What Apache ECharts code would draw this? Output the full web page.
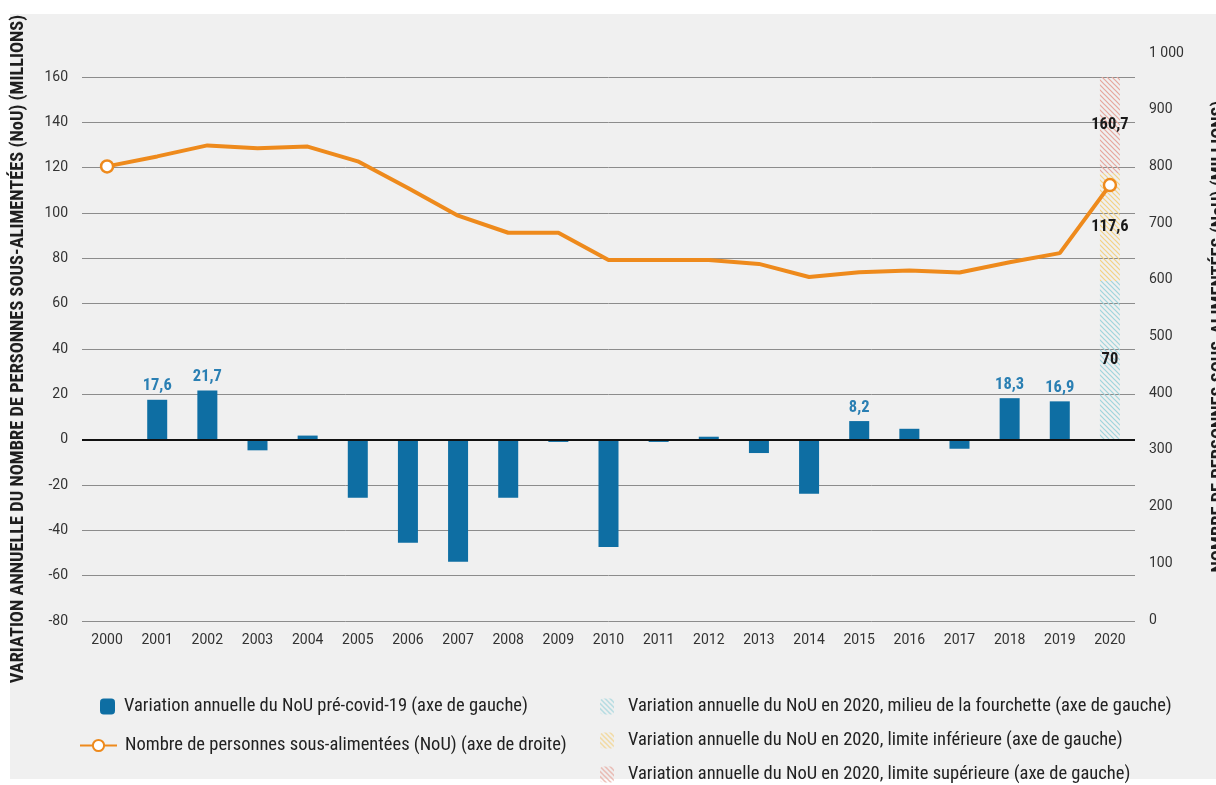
<!DOCTYPE html>
<html>
<head>
<meta charset="utf-8">
<script src="https://cdn.jsdelivr.net/npm/echarts@6/dist/echarts.min.js"></script>
<style>
  html, body { margin: 0; padding: 0; background: #ffffff; }
  #bg { position: absolute; left: 10px; top: 14px; right: 0; bottom: 6px; background: #f0f0f0; }
  #chart { position: absolute; left: 0; top: 0; width: 1216px; height: 785px; }
</style>
</head>
<body>
<div id="bg"></div>
<div id="chart"></div>
<script>
// ---------- data ----------
const years = ['2000','2001','2002','2003','2004','2005','2006','2007','2008','2009','2010',
               '2011','2012','2013','2014','2015','2016','2017','2018','2019','2020'];
// annual change in NoU before covid-19 (left axis, millions)
const annualChange = [null, 17.6, 21.7, -4.7, 1.8, -25.6, -45.5, -53.9, -25.6, -1.0, -47.3,
                      -1.0, 1.3, -5.9, -23.9, 8.2, 4.8, -4.0, 18.3, 16.9, null];
const labeledYears = ['2001', '2002', '2015', '2018', '2019'];
// number of undernourished people (right axis, millions)
const nou = [800, 817.6, 837, 832, 835, 809, 762, 713, 683, 683, 635,
             635, 635, 628, 605, 613.5, 616.5, 613, 631, 647, 767];
// 2020 range bounds (cumulative values shown as labels)
const rangeBounds = [70, 117.6, 160.7];
const rangeNames = [
  'Variation annuelle du NoU en 2020, milieu de la fourchette (axe de gauche)',
  'Variation annuelle du NoU en 2020, limite inférieure (axe de gauche)',
  'Variation annuelle du NoU en 2020, limite supérieure (axe de gauche)'
];
const rangeYear = '2020';
const leftTicks = { min: -80, max: 160, interval: 20 };
const rightTicks = { min: 0, max: 1000, interval: 100 };
const barName = 'Variation annuelle du NoU pré-covid-19 (axe de gauche)';
const lineName = 'Nombre de personnes sous-alimentées (NoU) (axe de droite)';
const leftTitle = 'VARIATION ANNUELLE DU NOMBRE DE PERSONNES SOUS-ALIMENTÉES (NoU) (MILLIONS)';
const rightTitle = 'NOMBRE DE PERSONNES SOUS-ALIMENTÉES (NoU) (MILLIONS)';

// ---------- styles ----------
const NARROW = "'Roboto Condensed', 'Fira Sans Condensed', 'Archivo Narrow', sans-serif";
const REG = "Roboto, 'Liberation Sans', sans-serif";
const BAR_COLOR = '#0e6ea3';
const LINE_COLOR = '#ee8a1c';
const hatchColors = ['#9fd4dc', '#f3d184', '#e6a69c'];

function hatch(color) {
  const s = 5;
  const c = document.createElement('canvas');
  c.width = s; c.height = s;
  const g = c.getContext('2d');
  g.strokeStyle = color;
  g.lineWidth = 1.2;
  g.beginPath();
  g.moveTo(-1, -1); g.lineTo(s + 1, s + 1);
  g.moveTo(-s - 1, -1); g.lineTo(1, s + 1);
  g.moveTo(s - 1, -1); g.lineTo(2 * s + 1, s + 1);
  g.stroke();
  return { image: c, repeat: 'repeat' };
}
const fmt = v => String(v).replace('.', ',');

const chart = echarts.init(document.getElementById('chart'), null, { renderer: 'canvas' });

const rangeSeries = rangeBounds.map((b, k) => {
  const prev = k === 0 ? 0 : rangeBounds[k - 1];
  const seg = +(b - prev).toFixed(1);
  return {
    name: rangeNames[k],
    type: 'bar',
    stack: 'v',
    xAxisIndex: 0, yAxisIndex: 0,
    barWidth: 20,
    data: years.map(y => (y === rangeYear ? seg : '-')),
    itemStyle: { color: hatch(hatchColors[k]) },
    label: {
      show: true, position: 'inside',
      formatter: () => fmt(b),
      color: '#1a1a1a', fontFamily: NARROW, fontWeight: 'bold', fontSize: 16.5
    },
    z: 3
  };
});

const legendText = { fontFamily: NARROW, fontSize: 18.5, color: '#222' };

const option = {
  backgroundColor: 'transparent',
  animation: false,
  grid: [
    { left: 82, right: 81, top: 77, bottom: 164, containLabel: false, outerBoundsMode: 'none' },
    { left: 82, right: 81, top: 53, bottom: 165, containLabel: false, outerBoundsMode: 'none' }
  ],
  xAxis: [
    {
      type: 'category', gridIndex: 0, data: years, boundaryGap: true,
      axisLine: { show: false }, axisTick: { show: false },
      axisLabel: { color: '#333', fontFamily: REG, fontSize: 14, margin: 12 }
    },
    {
      type: 'category', gridIndex: 1, data: years, boundaryGap: true, show: false
    }
  ],
  yAxis: [
    {
      type: 'value', gridIndex: 0, position: 'left',
      min: leftTicks.min, max: leftTicks.max, interval: leftTicks.interval,
      axisLine: { show: false }, axisTick: { show: false },
      splitLine: { show: true, lineStyle: { color: '#8c8c8c', width: 1 } },
      axisLabel: { color: '#333', fontFamily: REG, fontSize: 14, margin: 14 },
      name: leftTitle, nameLocation: 'middle', nameRotate: 90, nameGap: 55,
      nameTextStyle: { fontFamily: NARROW, fontWeight: 'bold', fontSize: 18.4, color: '#1e1e1e' }
    },
    {
      type: 'value', gridIndex: 1, position: 'right',
      min: rightTicks.min, max: rightTicks.max, interval: rightTicks.interval,
      axisLine: { show: false }, axisTick: { show: false },
      splitLine: { show: false },
      axisLabel: {
        color: '#333', fontFamily: REG, fontSize: 14, margin: 14,
        formatter: v => (v >= 1000 ? String(v).replace(/\B(?=(\d{3})+(?!\d))/g, ' ') : String(v))
      },
      name: rightTitle, nameLocation: 'middle', nameRotate: 90, nameGap: 75,
      nameTextStyle: { fontFamily: NARROW, fontWeight: 'bold', fontSize: 18.4, color: '#1e1e1e' }
    }
  ],
  legend: [
    {
      data: [barName], left: 100, top: 697, padding: 0, itemWidth: 15, itemHeight: 16,
      textStyle: Object.assign({ padding: [0, 0, 0, 4] }, legendText)
    },
    {
      data: [lineName], left: 79, top: 736, padding: 0, itemWidth: 37, itemHeight: 14,
      textStyle: Object.assign({ padding: [0, 0, 0, 3] }, legendText)
    },
    {
      data: rangeNames, left: 600, top: 697, padding: 0, orient: 'vertical', itemGap: 15,
      itemWidth: 14, itemHeight: 16, height: 100,
      textStyle: Object.assign({ padding: [0, 0, 0, 9] }, legendText)
    }
  ],
  series: [
    {
      name: barName,
      type: 'bar', stack: 'v',
      xAxisIndex: 0, yAxisIndex: 0,
      barWidth: 20,
      data: annualChange.map(v => (v === null ? '-' : v)),
      itemStyle: { color: BAR_COLOR },
      label: {
        show: true, position: 'top', distance: 5,
        formatter: p => (labeledYears.indexOf(p.name) >= 0 ? fmt(p.value) : ''),
        color: '#2a7fb3', fontFamily: NARROW, fontWeight: 'bold', fontSize: 16.5
      },
      markLine: {
        silent: true, symbol: 'none', label: { show: false },
        lineStyle: { color: '#111', width: 2, type: 'solid' },
        data: [{ yAxis: 0 }]
      },
      z: 3
    },
    ...rangeSeries,
    {
      name: lineName,
      type: 'line',
      xAxisIndex: 1, yAxisIndex: 1,
      data: nou.map((v, i) => ({ value: v, symbolSize: (i === 0 || i === nou.length - 1) ? 12 : 0 })),
      symbol: 'circle', symbolSize: 12, showSymbol: true,
      lineStyle: { color: LINE_COLOR, width: 4 },
      itemStyle: { color: '#ffffff', borderColor: LINE_COLOR, borderWidth: 2.5 },
      z: 5
    }
  ]
};
chart.setOption(option);
</script>
</body>
</html>
